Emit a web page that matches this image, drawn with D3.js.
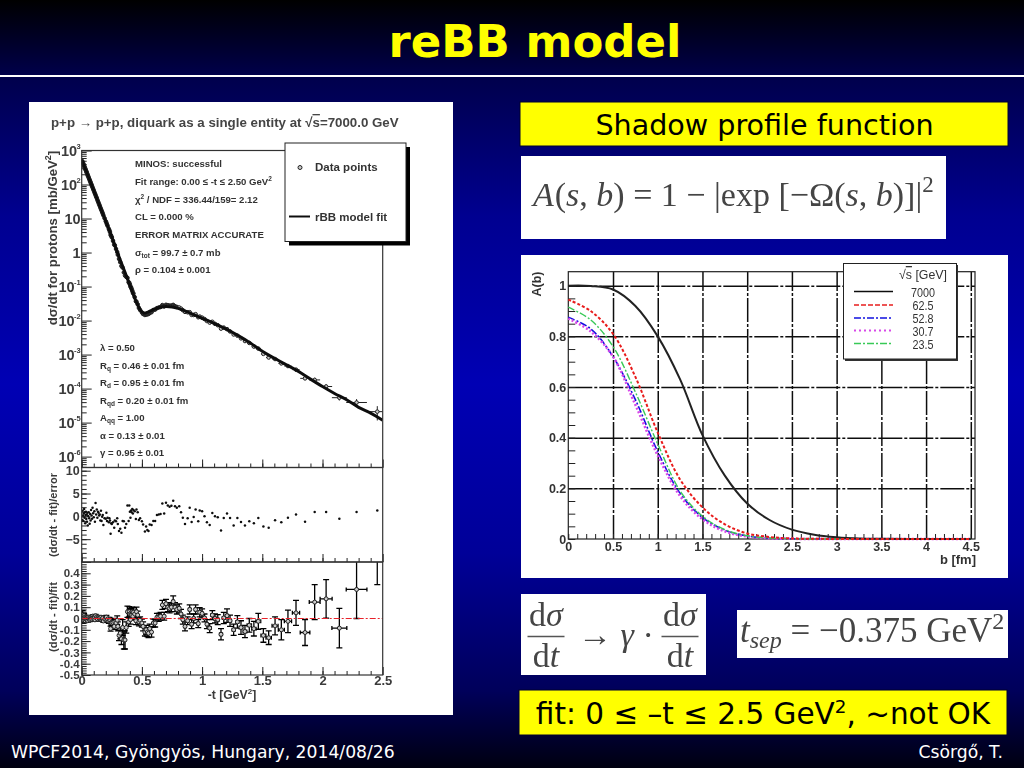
<!DOCTYPE html>
<html>
<head>
<meta charset="utf-8">
<script src="https://cdnjs.cloudflare.com/ajax/libs/d3/7.8.5/d3.min.js"></script>
<style>
  html, body { margin: 0; padding: 0; background: #000; overflow: hidden; }
  svg { display: block; }
  .sans { font-family: "Liberation Sans", Arial, sans-serif; }
</style>
</head>
<body>
<svg id="slide" width="1024" height="768"></svg>
<script>
// -t bin centres of the data points [GeV^2]
const tBins = [
  .005,.008,.011,.014,.017,.020,.023,.026,.029,.032,
  .035,.038,.041,.044,.047,.050,.054,.058,.062,.066,
  .070,.074,.078,.082,.086,.090,.095,.100,.105,.110,
  .115,.120,.125,.130,.135,.140,.145,.150,.155,.160,
  .165,.170,.175,.180,.190,.200,.205,.210,.215,.225,
  .230,.235,.240,.245,.250,.260,.270,.275,.285,.295,
  .300,.310,.320,.330,.340,.350,.360,.370,.380,.390,
  .395,.400,.405,.410,.415,.420,.425,.430,.440,.450,
  .455,.465,.475,.485,.500,.510,.525,.535,.545,.555,
  .565,.580,.595,.610,.625,.640,.655,.670,.685,.700,
  .715,.730,.745,.760,.775,.790,.810,.825,.840,.858,
  .880,.897,.913,.930,.946,.968,.980,1.000,1.020,1.040,
  1.063,1.085,1.107,1.130,1.157,1.180,1.207,1.232,1.262,1.293,
  1.323,1.356,1.392,1.430,1.467,1.509,1.553,1.606,1.658,1.713,
  1.780,1.855,1.935,2.030,2.140,2.283,2.455
];
const tErr = [
  .0015,.0015,.0015,.0015,.0015,.0015,.0015,.0015,.0015,.0015,
  .0015,.0015,.0015,.0015,.0015,.0015,.0015,.0015,.0015,.0015,
  .002,.002,.002,.002,.002,.002,.002,.002,.002,.002,
  .002,.002,.002,.002,.002,.002,.002,.002,.002,.002,
  .003,.003,.003,.003,.003,.003,.003,.003,.003,.003,
  .003,.003,.003,.003,.003,.003,.003,.003,.003,.003,
  .004,.004,.004,.004,.004,.004,.004,.004,.004,.004,
  .004,.004,.004,.004,.004,.004,.004,.004,.004,.004,
  .005,.005,.005,.005,.005,.005,.005,.005,.005,.005,
  .006,.006,.006,.006,.006,.006,.006,.006,.006,.006,
  .008,.008,.008,.008,.008,.008,.008,.008,.008,.008,
  .01,.01,.01,.01,.01,.01,.01,.01,.01,.01,
  .012,.012,.012,.012,.012,.012,.012,.012,.012,.012,
  .015,.015,.018,.018,.02,.02,.022,.025,.025,.03,
  .03,.04,.045,.05,.062,.086,.09
];
// measured d(sigma)/dt [mb/GeV^2]
const dsdtData = [
  484,455,427,401,377,354,333,312,294,276,
  259,243,229,215,202,186,174,160,147,136,
  125,115,106,97,89.5,82,74,67,60,54,
  49,44,40,35.7,32,29,26,23.5,21,19,
  17.2,15.5,14,12.4,10.2,8.3,7.6,6.7,6.1,5,
  4.5,4,3.3,3.1,2.8,2.2,1.72,1.62,1.27,1.03,
  .86,.65,.52,.4,.36,.26,.21,.193,.18,.134,
  .13,.116,.1,.095,.085,.076,.066,.062,.049,.037,
  .036,.03,.0235,.0205,.0173,.0156,.0146,.0151,.0152,.0157,
  .0166,.0176,.0205,.021,.0232,.0243,.025,.0285,.026,.0291,
  .0283,.0276,.0276,.0289,.0264,.0252,.0242,.0224,.0202,.018,
  .0175,.0176,.0147,.0146,.0154,.0125,.0131,.0122,.0111,.0097,
  .0087,.0092,.008,.0073,.0058,.0062,.0056,.0048,.0039,.0036,
  .003,.0025,.0022,.00172,.0015,.00105,.00082,.00074,.00055,.00046,
  .00036,.0002,.00018,.000115,.000054,.000039,.000021
];
// (dsigma/dt - fit)/error
const pulls = [
  -.8,1.2,.2,-1,.6,1.6,-.3,.9,-1.5,.3,
  1,-.6,.4,-1.2,.8,-2,.1,.9,-.4,-1.6,
  .5,-.9,1.4,.2,-.5,1.9,.7,-.2,1.1,-1.2,
  2.9,.4,1.5,-.3,1,.8,.2,.4,-.9,1.2,
  -1,-.1,.3,-1.9,-.4,-.5,.8,-1,-.3,-1.3,
  -.4,-.9,-3.8,-1.5,-1.7,-1.3,-2.5,-.9,-1.1,-.4,
  -1.7,-3.2,-2.7,-3.6,-1,-1.1,-2.5,-1.7,2.4,-1,
  2.4,1,-.3,1.3,.9,1.6,.6,1.4,1.1,-.6,
  1.5,.9,-.8,-.4,-1.1,-1.8,-3.3,-2.2,-3,-3.2,
  -1.8,-1.9,-1,-1,.3,.4,.5,2.8,.6,3,
  2.4,2.1,2.3,3.4,2.2,1.9,2.2,.9,-.3,-1.7,
  -.4,1.9,-1.25,-.13,1.5,-1.1,1.3,1.1,0,-1.3,
  -1.9,.74,0,-.2,-3.1,-.36,.6,-.36,-2,-.36,
  -1.25,-2,-1.1,-1.5,-.36,-2.2,-2.5,-.87,-1.3,-.3,
  .4,-1.2,.96,.96,-.55,.96,1.3
];
// (dsigma/dt - fit)/fit
const relRes = [
  -.01,.03,.005,-.015,.01,.025,-.005,.012,-.02,.004,
  .012,-.008,.005,-.014,.01,-.02,0,.01,-.005,-.015,
  .006,-.009,.014,.002,-.006,.02,.008,-.002,.012,-.012,
  .025,.005,.016,-.004,.012,.01,.003,.004,-.01,.012,
  -.012,-.002,.004,-.022,-.006,-.008,.012,-.016,-.005,-.025,
  -.008,-.02,-.09,-.035,-.04,-.035,-.07,-.03,-.04,-.015,
  -.07,-.15,-.13,-.18,-.08,-.19,-.19,-.08,.06,-.03,
  .06,.04,-.01,.05,.03,.06,.02,.055,.04,-.02,
  .06,.03,-.03,-.015,-.04,-.07,-.12,-.1,-.12,-.13,
  -.09,-.12,-.04,-.04,.01,.01,.02,.12,.02,.13,
  .1,.09,.1,.15,.1,.08,.09,.04,-.01,-.07,
  -.02,.08,-.05,0,.08,-.045,.055,.045,.005,-.05,
  -.085,.03,0,-.01,-.14,.005,.025,-.02,-.1,-.03,
  -.08,-.115,-.06,-.09,-.025,-.15,-.17,-.065,-.1,-.025,
  .05,-.124,.145,.174,-.085,.257,.75
];
const relErr = [
  .03,.04,.03,.02,.02,.02,.015,.015,.015,.015,
  .015,.015,.012,.012,.012,.012,.012,.012,.012,.012,
  .012,.012,.012,.012,.012,.012,.012,.012,.012,.012,
  .012,.012,.012,.012,.012,.012,.012,.012,.012,.012,
  .012,.012,.012,.012,.014,.014,.015,.015,.015,.018,
  .018,.02,.022,.022,.024,.025,.027,.03,.033,.038,
  .04,.045,.05,.05,.07,.08,.08,.05,.05,.04,
  .045,.04,.04,.04,.035,.04,.035,.04,.035,.035,
  .04,.035,.035,.03,.035,.04,.035,.04,.04,.04,
  .04,.045,.035,.035,.035,.035,.035,.04,.035,.04,
  .04,.04,.04,.05,.04,.04,.04,.04,.04,.04,
  .035,.04,.04,.04,.04,.035,.04,.04,.035,.04,
  .04,.04,.04,.045,.05,.05,.06,.05,.05,.055,
  .06,.055,.06,.065,.07,.06,.06,.08,.09,.1,
  .11,.115,.155,.17,.175,.257,.45
];
// rBB model fit curve
const fitT = [0,.05,.1,.15,.2,.25,.3,.35,.4,.45,.5,.525,.55,.6,.65,.7,.75,.8,.9,1,1.1,1.2,1.3,1.4,1.5,1.6,1.7,1.8,1.9,2,2.1,2.2,2.3,2.4,2.5];
const fitV = [537,190,68,23.4,8.3,2.9,.93,.32,.11,.038,.018,.0166,.0178,.0214,.0245,.0257,.0251,.0229,.0166,.0117,.0083,.0056,.0036,.0022,.00126,.00078,.0005,.00032,.00019,.000115,.000072,.000047,.000028,.000019,.0000117];

const statsUpper = [
  [['MINOS: successful']],
  [['Fit range: 0.00 ≤ -t ≤ 2.50 GeV'], ['2','sup']],
  [['χ'],['2','sup'],[' / NDF = 336.44/159= 2.12']],
  [['CL = 0.000 %']],
  [['ERROR MATRIX ACCURATE']],
  [['σ'],['tot','sub'],[' = 99.7 ±  0.7 mb']],
  [['ρ = 0.104 ± 0.001']]
];
const statsLower = [
  [['λ = 0.50']],
  [['R'],['q','sub'],[' = 0.46 ± 0.01 fm']],
  [['R'],['d','sub'],[' = 0.95 ± 0.01 fm']],
  [['R'],['qd','sub'],[' = 0.20 ± 0.01 fm']],
  [['A'],['qq','sub'],[' = 1.00']],
  [['α = 0.13 ± 0.01']],
  [['γ = 0.95 ± 0.01']]
];

// shadow profile A(b)
const bGrid = [0,.25,.5,.75,1,1.25,1.5,1.75,2,2.25,2.5,2.75,3,3.25,3.5,4,4.5];
const sqrtS = ['7000','62.5','52.8','30.7','23.5'];
const A7000 = [1,.999,.985,.92,.80,.63,.41,.25,.14,.075,.037,.017,.007,.002,.0006,0,0];
const A625  = [.945,.90,.81,.64,.42,.235,.125,.058,.022,.008,.002,.001,0,0,0,0,0];
const A528  = [.875,.83,.72,.55,.345,.18,.085,.035,.012,.003,.001,0,0,0,0,0,0];
const A307  = [.87,.82,.72,.53,.33,.17,.078,.03,.01,.003,.001,0,0,0,0,0,0];
const A235  = [.915,.865,.76,.58,.375,.19,.09,.037,.013,.004,.001,0,0,0,0,0,0];

const svg = d3.select('#slide');
const defs = svg.append('defs');

defs.append('filter').attr('id', 'soft').attr('x', 0).attr('y', 0).attr('width', 1).attr('height', 1)
  .attr('filterUnits', 'objectBoundingBox')
  .append('feGaussianBlur').attr('stdDeviation', 0.4);

// Slide background
const bg = defs.append('linearGradient').attr('id', 'bg')
  .attr('x1', 0).attr('y1', 0).attr('x2', 0).attr('y2', 1);
[[0, '#000000'], [0.1, '#00004c'], [0.28, '#000090'], [0.5, '#0000b4'], [0.72, '#000098'], [0.9, '#00005a'], [1, '#000010']]
  .forEach(s => bg.append('stop').attr('offset', s[0]).attr('stop-color', s[1]));
svg.append('rect').attr('width', 1024).attr('height', 768).attr('fill', 'url(#bg)');

svg.append('rect').attr('x', 0).attr('y', 75).attr('width', 1024).attr('height', 2).attr('fill', '#fff');
svg.append('text').attr('x', 535).attr('y', 57).attr('text-anchor', 'middle')
  .attr('font-family', 'DejaVu Sans').attr('font-weight', 'bold').attr('font-size', 45)
  .attr('fill', '#ffff00').text('reBB model');

// footer
svg.append('text').attr('x', 11).attr('y', 758).attr('font-family', 'DejaVu Sans').attr('font-size', 17.2)
  .attr('fill', '#fff').text('WPCF2014, Gyöngyös, Hungary, 2014/08/26');
svg.append('text').attr('x', 1003).attr('y', 758).attr('text-anchor', 'end').attr('font-family', 'DejaVu Sans').attr('font-size', 17.2)
  .attr('fill', '#fff').text('Csörgő, T.');

// Yellow captions
function caption(x, y, w, h, cx, base, size, parts) {
  svg.append('rect').attr('x', x).attr('y', y).attr('width', w).attr('height', h).attr('fill', '#ffff00')
    .attr('stroke', '#000030').attr('stroke-width', 1);
  const t = svg.append('text').attr('x', cx).attr('y', base).attr('text-anchor', 'middle')
    .attr('font-family', 'DejaVu Sans').attr('font-size', size).attr('fill', '#000');
  parts.forEach(p => t.append('tspan').attr('font-size', p[1] ? size * 0.62 : size)
    .attr('dy', p[1] ? -size * 0.36 : (p[2] || 0)).text(p[0]));
}
caption(520, 102, 488, 44, 764.5, 135, 28.6, [['Shadow profile function']]);
caption(519, 690, 488, 45, 763, 724, 29.5, [['fit: 0 ≤ –t ≤ 2.5 GeV'], ['2', true], [', ~not OK', false, 29.5 * 0.36]]);

// White formula cards, set as real text
const cards = svg.append('g').attr('filter', 'url(#soft)');
function card(x, y, w, h) {
  cards.append('rect').attr('x', x).attr('y', y).attr('width', w).attr('height', h).attr('fill', '#fff');
}
function mathText(x, y, size, parts, anchor) {
  const t = cards.append('text').attr('x', x).attr('y', y).attr('text-anchor', anchor || 'start')
    .attr('font-family', 'Liberation Serif').attr('font-size', size).attr('fill', '#444');
  parts.forEach(p => {
    const s = t.append('tspan').text(p.t);
    if (p.i) s.attr('font-style', 'italic');
    if (p.size) s.attr('font-size', p.size);
    if (p.dy) s.attr('dy', p.dy);
    if (p.dx) s.attr('dx', p.dx);
  });
  return t;
}
card(521, 156, 425, 83);
mathText(533, 206, 34, [
  {t: 'A', i: 1}, {t: '(', dx: 1}, {t: 's', i: 1}, {t: ', '}, {t: 'b', i: 1}, {t: ') = 1 − |exp [−Ω('}, {t: 's', i: 1}, {t: ', '}, {t: 'b', i: 1}, {t: ')]|'},
  {t: '2', size: 23, dy: -14}
]);
card(521, 594, 185, 81);
function fraction(cx, lineW) {
  mathText(cx, 626, 34, [{t: 'd'}, {t: 'σ', i: 1}], 'middle');
  cards.append('line').attr('x1', cx - lineW / 2).attr('x2', cx + lineW / 2).attr('y1', 636.5).attr('y2', 636.5).attr('stroke', '#555').attr('stroke-width', 1.3);
  mathText(cx, 667, 34, [{t: 'd'}, {t: 't', i: 1}], 'middle');
}
fraction(546, 37);
mathText(578, 646, 34, [{t: '→'}, {t: ' γ', i: 1}, {t: ' ·'}]);
fraction(680, 37);
card(737, 610, 271, 48);
mathText(740, 642, 35, [
  {t: 't', i: 1}, {t: 'sep', i: 1, size: 24, dy: 6}, {t: ' = −0.375 GeV', dy: -6}, {t: '2', size: 24, dy: -13}
]);

// Left ROOT canvas
svg.append('rect').attr('x', 29).attr('y', 102).attr('width', 424).attr('height', 613).attr('fill', '#fff');
const plotL = svg.append('g').attr('class', 'sans').attr('fill', '#333').attr('filter', 'url(#soft)');
plotL.append('rect').attr('x', 29).attr('y', 102).attr('width', 424).attr('height', 613).attr('fill', '#fff');

const x0 = 81.7, x1 = 382.7;
const x = d3.scaleLinear().domain([0, 2.5]).range([x0, x1]);
const yTop = d3.scaleLog().domain([Math.pow(10, -6.32), 1000]).range([467.5, 150.5]);
const yPull = d3.scaleLinear().domain([-10, 10.7]).range([562, 467.5]);
const yRel = d3.scaleLinear().domain([-.5, .5]).range([675, 562]);

// Draw one tick set with a d3 axis and drop the domain path
function ticks(parent, axis, values, size, stroke, width) {
  const g = parent.append('g').call(axis.tickValues(values).tickSize(size).tickFormat(''));
  g.select('.domain').remove();
  g.selectAll('.tick line').attr('stroke', stroke).attr('stroke-width', width);
  return g;
}

function xTicks(parent, yPos) {
  const g = parent.append('g').attr('transform', `translate(0,${yPos})`);
  ticks(g, d3.axisBottom(x), d3.range(0, 25).map(i => i / 10), -4, '#222', 1);
  ticks(g, d3.axisBottom(x), [0, .5, 1, 1.5, 2, 2.5], -8, '#222', 1);
}

const frames = [[150.5, 467.5], [467.5, 562], [562, 675]];
const clipNames = ['clipTop', 'clipPull', 'clipRel'];
frames.forEach((f, i) => {
  defs.append('clipPath').attr('id', clipNames[i]).append('rect')
    .attr('x', x0).attr('y', f[0]).attr('width', x1 - x0).attr('height', f[1] - f[0]);
});

// top pad: log axis
const yAxisTop = plotL.append('g').attr('transform', `translate(${x0},0)`);
const decades = d3.range(-6, 4).map(e => Math.pow(10, e));
const minors = [];
d3.range(-7, 3).forEach(e => d3.range(2, 10).forEach(m => {
  const v = m * Math.pow(10, e);
  if (v >= yTop.domain()[0] && v <= 1000) minors.push(v);
}));
ticks(yAxisTop, d3.axisLeft(yTop), minors, -5, '#222', 1);
ticks(yAxisTop, d3.axisLeft(yTop), decades, -10, '#222', 1);
xTicks(plotL, 467.5);

// decade labels
const decadeLabels = plotL.append('g').attr('transform', `translate(${x0 - 1},0)`)
  .call(d3.axisLeft(yTop).tickValues(decades).tickSize(0).tickPadding(0).tickFormat(''));
decadeLabels.select('.domain').remove();
decadeLabels.selectAll('.tick text')
  .attr('font-family', 'Liberation Sans').attr('font-size', 14.5).attr('font-weight', 'bold').attr('fill', '#3a3a3a')
  .attr('text-anchor', 'end').attr('dy', '0.32em')
  .each(function (d) {
    const e = Math.round(Math.log10(d));
    const s = d3.select(this);
    if (e === 0) { s.text('1'); return; }
    if (e === 1) { s.text('10'); return; }
    s.append('tspan').text('10');
    s.append('tspan').attr('font-size', 7.5).attr('dy', -7).attr('dx', -0.5).text(e);
  });

// middle pad axis
const yAxisPull = plotL.append('g').attr('transform', `translate(${x0},0)`);
ticks(yAxisPull, d3.axisLeft(yPull), d3.range(-10, 11), -5, '#222', 1);
ticks(yAxisPull, d3.axisLeft(yPull), [-10, -5, 0, 5, 10], -9, '#222', 1);
xTicks(plotL, 562);
plotL.append('g').attr('transform', `translate(${x0 - 2},0)`)
  .call(d3.axisLeft(yPull).tickValues([-5, 0, 5, 10]).tickSize(0).tickPadding(0))
  .call(g => g.select('.domain').remove())
  .selectAll('.tick text').attr('font-family', 'Liberation Sans').attr('font-size', 12.5).attr('font-weight', 'bold').attr('fill', '#3a3a3a');

// bottom pad axis
const yAxisRel = plotL.append('g').attr('transform', `translate(${x0},0)`);
ticks(yAxisRel, d3.axisLeft(yRel), d3.range(-25, 25).map(i => i / 50), -5, '#222', 1);
ticks(yAxisRel, d3.axisLeft(yRel), d3.range(-5, 6).map(i => i / 10), -9, '#222', 1);
xTicks(plotL, 675);
plotL.append('g').attr('transform', `translate(${x0 - 2},0)`)
  .call(d3.axisLeft(yRel).tickValues(d3.range(-5, 5).map(i => i / 10)).tickSize(0).tickPadding(0).tickFormat(d => d === 0 ? '0' : d3.format('.1f')(d).replace('−', '-')))
  .call(g => g.select('.domain').remove())
  .selectAll('.tick text').attr('font-family', 'Liberation Sans').attr('font-size', 11.5).attr('font-weight', 'bold').attr('fill', '#3a3a3a');
plotL.append('g').attr('transform', 'translate(0,675)')
  .call(d3.axisBottom(x).tickValues([0, .5, 1, 1.5, 2, 2.5]).tickSize(0).tickPadding(1).tickFormat(d => String(d)))
  .call(g => g.select('.domain').remove())
  .selectAll('.tick text').attr('font-family', 'Liberation Sans').attr('font-size', 13).attr('font-weight', 'bold').attr('fill', '#3a3a3a');

// Data: indices shared by all three pads
const idx = d3.range(tBins.length);

// top pad marks
const padTop = plotL.append('g').attr('clip-path', 'url(#clipTop)');
const fitLine = d3.line().x((d, i) => x(fitT[i])).y(d => yTop(d)).curve(d3.curveMonotoneX);
padTop.append('g').selectAll('line.xe').data(idx).join('line')
  .attr('x1', i => x(tBins[i] - tErr[i])).attr('x2', i => x(tBins[i] + tErr[i]))
  .attr('y1', i => yTop(dsdtData[i])).attr('y2', i => yTop(dsdtData[i]))
  .attr('stroke', '#222').attr('stroke-width', 1);
padTop.append('g').selectAll('line.ye').data(idx).join('line')
  .attr('x1', i => x(tBins[i])).attr('x2', i => x(tBins[i]))
  .attr('y1', i => yTop(dsdtData[i] * (1 - relErr[i]))).attr('y2', i => yTop(dsdtData[i] * (1 + relErr[i])))
  .attr('stroke', '#222').attr('stroke-width', 1);
padTop.append('g').selectAll('circle').data(idx).join('circle')
  .attr('cx', i => x(tBins[i])).attr('cy', i => yTop(dsdtData[i])).attr('r', 1.8)
  .attr('fill', i => tBins[i] < .8 ? '#333' : '#ccc').attr('stroke', '#222').attr('stroke-width', 1);
padTop.append('path').attr('d', fitLine(fitV)).attr('fill', 'none').attr('stroke', '#111').attr('stroke-width', 3);

// middle pad marks
plotL.append('g').attr('clip-path', 'url(#clipPull)').selectAll('circle').data(idx).join('circle')
  .attr('cx', i => x(tBins[i])).attr('cy', i => yPull(pulls[i])).attr('r', 1.25).attr('fill', '#111');

// bottom pad marks
const padRel = plotL.append('g').attr('clip-path', 'url(#clipRel)');
padRel.append('g').selectAll('path').data(idx).join('path')
  .attr('d', i => {
    const cx = x(tBins[i]), cy = yRel(relRes[i]);
    const up = yRel(relRes[i] + relErr[i]), dn = yRel(relRes[i] - relErr[i]);
    const l = x(tBins[i] - tErr[i]), r = x(tBins[i] + tErr[i]);
    return d3.line()([[cx, up], [cx, dn]]) + d3.line()([[cx - 3, up], [cx + 3, up]]) + d3.line()([[cx - 3, dn], [cx + 3, dn]])
      + d3.line()([[l, cy], [r, cy]]) + d3.line()([[l, cy - 2], [l, cy + 2]]) + d3.line()([[r, cy - 2], [r, cy + 2]]);
  })
  .attr('stroke', '#000').attr('stroke-width', 1.3).attr('fill', 'none');
padRel.append('g').selectAll('circle').data(idx).join('circle')
  .attr('cx', i => x(tBins[i])).attr('cy', i => yRel(relRes[i])).attr('r', 2)
  .attr('fill', '#ccc').attr('stroke', '#222').attr('stroke-width', 1);
padRel.append('line').attr('x1', x0).attr('x2', x1).attr('y1', yRel(0)).attr('y2', yRel(0))
  .attr('stroke', '#e8202a').attr('stroke-width', 1.1).attr('stroke-dasharray', '6 2 2 2');

// pad frames
frames.forEach(f => {
  plotL.append('rect').attr('x', x0).attr('y', f[0]).attr('width', x1 - x0).attr('height', f[1] - f[0])
    .attr('fill', 'none').attr('stroke', '#333').attr('stroke-width', 1.2);
});

// axis titles
plotL.append('text').attr('font-size', 13.2).attr('font-weight', 'bold').attr('fill', '#3a3a3a')
  .attr('text-anchor', 'middle').attr('transform', 'translate(57,238) rotate(-90)')
  .call(t => { t.append('tspan').text('dσ/dt for protons [mb/GeV'); t.append('tspan').attr('font-size', 9).attr('dy', -6).text('2'); t.append('tspan').attr('dy', 6).text(']'); });
plotL.append('text').attr('font-size', 11).attr('font-weight', 'bold').attr('fill', '#3a3a3a')
  .attr('text-anchor', 'middle').attr('transform', 'translate(57,515) rotate(-90)').text('(dσ/dt - fit)/error');
plotL.append('text').attr('font-size', 11.2).attr('font-weight', 'bold').attr('fill', '#3a3a3a')
  .attr('text-anchor', 'middle').attr('transform', 'translate(57,617) rotate(-90)').text('(dσ/dt - fit)/fit');
plotL.append('text').attr('x', 232).attr('y', 699).attr('text-anchor', 'middle').attr('font-size', 12.2).attr('font-weight', 'bold').attr('fill', '#3a3a3a')
  .call(t => { t.append('tspan').text('-t [GeV'); t.append('tspan').attr('font-size', 8).attr('dy', -5).text('2'); t.append('tspan').attr('dy', 5).text(']'); });

// title
plotL.append('text').attr('x', 51).attr('y', 127).attr('font-size', 13.3).attr('font-weight', 'bold').attr('fill', '#444')
  .call(t => {
    t.append('tspan').text('p+p → p+p, diquark as a single entity at √');
    t.append('tspan').attr('text-decoration', 'overline').text('s');
    t.append('tspan').text('=7000.0 GeV');
  });

// fit statistics
function richLines(lines, xPos, ys) {
  lines.forEach((line, i) => {
    const t = plotL.append('text').attr('x', xPos).attr('y', ys[i]).attr('font-size', 9.6).attr('font-weight', 'bold').attr('fill', '#333');
    let shift = 0;
    line.forEach(p => {
      const target = p[1] === 'sub' ? 2 : p[1] === 'sup' ? -4 : 0;
      t.append('tspan').attr('dy', target - shift).attr('font-size', p[1] ? 6.5 : 9.6).text(p[0]);
      shift = target;
    });
  });
}
richLines(statsUpper, 135, [167, 185, 203, 220, 238, 256, 273]);
richLines(statsLower, 100, [351, 369, 386, 404, 421, 439, 456]);

// legend box
plotL.append('rect').attr('x', 289).attr('y', 147).attr('width', 121).attr('height', 98.5).attr('fill', '#000');
plotL.append('rect').attr('x', 285).attr('y', 143).attr('width', 121).attr('height', 98.5).attr('fill', '#fff').attr('stroke', '#222').attr('stroke-width', 1);
plotL.append('circle').attr('cx', 300).attr('cy', 167.5).attr('r', 2).attr('fill', '#ccc').attr('stroke', '#222');
plotL.append('text').attr('x', 315).attr('y', 171).attr('font-size', 11.5).attr('font-weight', 'bold').attr('fill', '#333').text('Data points');
plotL.append('line').attr('x1', 289).attr('x2', 310).attr('y1', 216.5).attr('y2', 216.5).attr('stroke', '#111').attr('stroke-width', 2);
plotL.append('text').attr('x', 315).attr('y', 220.5).attr('font-size', 11.5).attr('font-weight', 'bold').attr('fill', '#333').text('rBB model fit');

// Right ROOT canvas: A(b)
const plotR = svg.append('g').attr('class', 'sans').attr('filter', 'url(#soft)');
plotR.append('rect').attr('x', 521).attr('y', 255).attr('width', 487).attr('height', 323).attr('fill', '#fff');
const xb = d3.scaleLinear().domain([0, 4.5]).range([568.3, 970.8]);
const yA = d3.scaleLinear().domain([0, 1]).range([539, 285.7]);
const rL = 568.3, rR = 975, rT = 271.7, rB = 539;

const gridMajorB = [.5, 1, 1.5, 2, 2.5, 3, 3.5, 4, 4.5];
const gridMajorA = [.2, .4, .6, .8, 1];
const gridX = plotR.append('g').attr('transform', `translate(0,${rB})`)
  .call(d3.axisBottom(xb).tickValues(gridMajorB).tickSize(rT - rB).tickFormat(''));
const gridY = plotR.append('g').attr('transform', `translate(${rL},0)`)
  .call(d3.axisLeft(yA).tickValues(gridMajorA).tickSize(rL - rR).tickFormat(''));
[gridX, gridY].forEach(g => {
  g.select('.domain').remove();
  g.selectAll('.tick line').attr('stroke', '#111').attr('stroke-width', 1.5).attr('stroke-dasharray', '24 2 3 2');
});

const gBot = plotR.append('g').attr('transform', `translate(0,${rB})`);
ticks(gBot, d3.axisBottom(xb), d3.range(0, 46).map(i => i / 10), -5, '#222', 1);
const gLeft = plotR.append('g').attr('transform', `translate(${rL},0)`);
ticks(gLeft, d3.axisLeft(yA), d3.range(0, 21).map(i => i / 20), -7, '#222', 1);

plotR.append('g').attr('transform', `translate(0,${rB})`)
  .call(d3.axisBottom(xb).tickValues([0, .5, 1, 1.5, 2, 2.5, 3, 3.5, 4, 4.5]).tickSize(0).tickPadding(3).tickFormat(d => String(d)))
  .call(g => g.select('.domain').remove())
  .selectAll('.tick text').attr('font-family', 'Liberation Sans').attr('font-size', 12.5).attr('font-weight', 'bold').attr('fill', '#333');
plotR.append('g').attr('transform', `translate(${rL - 2},0)`)
  .call(d3.axisLeft(yA).tickValues([0, .2, .4, .6, .8, 1]).tickSize(0).tickPadding(0).tickFormat(d => String(d)))
  .call(g => g.select('.domain').remove())
  .selectAll('.tick text').attr('font-family', 'Liberation Sans').attr('font-size', 12.5).attr('font-weight', 'bold').attr('fill', '#333');

plotR.append('rect').attr('x', rL).attr('y', rT).attr('width', rR - rL).attr('height', rB - rT)
  .attr('fill', 'none').attr('stroke', '#222').attr('stroke-width', 1.2);

// Curves
const profiles = [
  {name: sqrtS[2], v: A528, c: '#1010e0', w: 1.6, dash: '7 2 2 2'},
  {name: sqrtS[3], v: A307, c: '#d84ae8', w: 2.6, dash: '2 2'},
  {name: sqrtS[4], v: A235, c: '#39c957', w: 1.4, dash: '7 2 2 2'},
  {name: sqrtS[0], v: A7000, c: '#222', w: 2, dash: null},
  {name: sqrtS[1], v: A625, c: '#e81c1c', w: 2, dash: '3 2'}
];
const curveLine = d3.line().x((d, i) => xb(bGrid[i])).y(d => yA(d)).curve(d3.curveCatmullRom.alpha(0.5));
plotR.append('g').selectAll('path').data(profiles).join('path')
  .attr('d', d => curveLine(d.v)).attr('fill', 'none')
  .attr('stroke', d => d.c).attr('stroke-width', d => d.w).attr('stroke-dasharray', d => d.dash);

plotR.append('text').attr('transform', 'translate(541,284) rotate(-90)').attr('text-anchor', 'middle')
  .attr('font-size', 12.5).attr('font-weight', 'bold').attr('fill', '#333').text('A(b)');
plotR.append('text').attr('x', 976).attr('y', 564).attr('text-anchor', 'end')
  .attr('font-size', 13).attr('font-weight', 'bold').attr('fill', '#333').text('b [fm]');

// Legend
plotR.append('rect').attr('x', 845).attr('y', 265).attr('width', 113).attr('height', 96).attr('fill', '#333');
plotR.append('rect').attr('x', 843.5).attr('y', 263.5).attr('width', 113).attr('height', 95.5).attr('fill', '#fff').attr('stroke', '#222').attr('stroke-width', 1);
plotR.append('text').attr('x', 923).attr('y', 279).attr('text-anchor', 'middle').attr('font-size', 13).attr('fill', '#333')
  .attr('textLength', 48).attr('lengthAdjust', 'spacingAndGlyphs')
  .call(t => {
    t.append('tspan').text('√');
    t.append('tspan').attr('text-decoration', 'overline').text('s');
    t.append('tspan').text(' [GeV]');
  });
const legendOrder = [
  {label: sqrtS[0], c: '#111', w: 1.5, dash: null, y: 291.5, len: 24},
  {label: sqrtS[1], c: '#e81c1c', w: 1.4, dash: '5 2', y: 305, len: 21},
  {label: sqrtS[2], c: '#1010e0', w: 1.4, dash: '7 2 2 2', y: 318, len: 21},
  {label: sqrtS[3], c: '#d84ae8', w: 1.8, dash: '2 3', y: 330.5, len: 21},
  {label: sqrtS[4], c: '#39c957', w: 1.4, dash: '7 2 2 2', y: 343.5, len: 21}
];
legendOrder.forEach(d => {
  plotR.append('line').attr('x1', 854).attr('x2', 893).attr('y1', d.y).attr('y2', d.y)
    .attr('stroke', d.c).attr('stroke-width', d.w).attr('stroke-dasharray', d.dash);
  plotR.append('text').attr('x', 923).attr('y', d.y + 5).attr('text-anchor', 'middle').attr('font-size', 13).attr('fill', '#333')
    .attr('textLength', d.len).attr('lengthAdjust', 'spacingAndGlyphs').text(d.label);
});
</script>
</body>
</html>
